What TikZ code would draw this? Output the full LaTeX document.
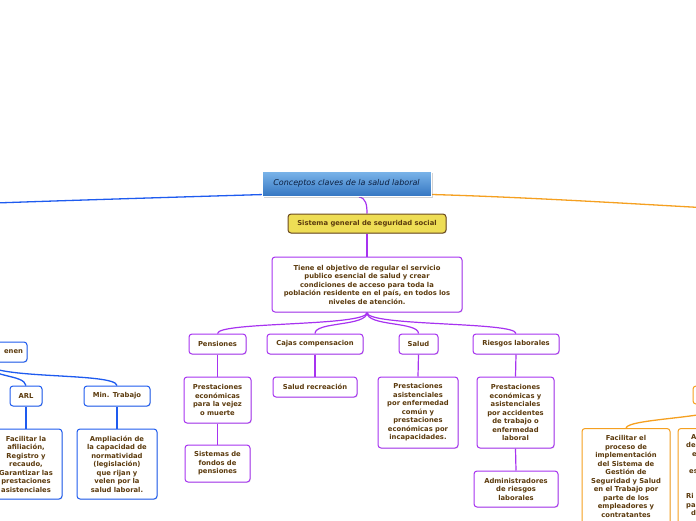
\documentclass[tikz,border=0pt]{standalone}
\usepackage{fontspec}
\setmainfont{DejaVu Sans}
\usetikzlibrary{shadows}
\pgfdeclarelayer{background}
\pgfsetlayers{background,main}
\definecolor{purp}{HTML}{A733F0}
\definecolor{txt}{HTML}{5C3B0E}
\definecolor{bluec}{HTML}{1E5BEF}
\definecolor{orng}{HTML}{F5A020}
\definecolor{yell}{HTML}{EEDD55}
\definecolor{yborder}{HTML}{6B4A1E}
\definecolor{navy}{HTML}{0B1E3F}
\definecolor{ttop}{HTML}{7CB5EA}
\definecolor{tbot}{HTML}{3577C2}
\begin{document}
\begin{tikzpicture}[x=1pt,y=-1pt,
  base/.style={line width=1pt, rounded corners=3pt, fill=white, align=center,
    inner xsep=2pt, inner ysep=1pt, text=txt,
    font=\fontsize{6.8}{8.5}\selectfont\bfseries,
    drop shadow={opacity=0.2, shadow xshift=0.8pt, shadow yshift=-0.8pt}},
  pbox/.style={base, draw=purp},
  bbox/.style={base, draw=bluec},
  obox/.style={base, draw=orng},
  pcon/.style={draw=purp, line width=1.2pt},
  bcon/.style={draw=bluec, line width=1.3pt},
  ocon/.style={draw=orng, line width=1.3pt}]
\useasboundingbox (0,0) rectangle (696,520);
\clip (0,0) rectangle (696,520);

% title
\node[draw=white, line width=1pt, top color=ttop, bottom color=tbot,
  minimum width=169pt, minimum height=25pt, inner sep=0pt, text=navy,
  font=\fontsize{8}{10}\selectfont\itshape,
  drop shadow={opacity=0.35, shadow xshift=1.5pt, shadow yshift=-1.5pt}]
  (title) at (346.5,183.5) {Conceptos claves de la salud laboral};

\node[draw=yborder, fill=yell, line width=1pt, rounded corners=3pt, text=txt,
  font=\fontsize{6.8}{8.5}\selectfont\bfseries, minimum width=158pt, minimum height=19pt, inner sep=0pt,
  drop shadow={opacity=0.25, shadow xshift=0.8pt, shadow yshift=-0.8pt}]
  (yellow) at (367,223.5) {Sistema general de seguridad social};

\node[pbox, minimum width=190pt, minimum height=55pt, text width=184pt] (desc) at (367,284.5)
  {Tiene el objetivo de regular el servicio\\publico esencial de salud y crear\\condiciones de acceso para toda la\\población residente en el país, en todos los\\niveles de atención.};

\node[pbox, minimum width=57pt, minimum height=20pt, text width=53pt] (pens) at (217.5,344) {Pensiones};
\node[pbox, minimum width=96pt, minimum height=20pt, text width=92pt] (cajas) at (315,344) {Cajas compensacion};
\node[pbox, minimum width=39pt, minimum height=20pt, text width=35pt] (salud) at (418.5,344) {Salud};
\node[pbox, minimum width=86pt, minimum height=20pt, text width=82pt] (riesgos) at (516,344) {Riesgos laborales};

\node[pbox, minimum width=67pt, minimum height=46pt, text width=63pt] (vejez) at (217.5,400)
  {Prestaciones\\económicas\\para la vejez\\o muerte};
\node[pbox, minimum width=65pt, minimum height=37pt, text width=61pt] (fondos) at (217.5,463.5)
  {Sistemas de\\fondos de\\pensiones};
\node[pbox, minimum width=84pt, minimum height=20pt, text width=80pt] (recre) at (315,387) {Salud recreación};
\node[pbox, minimum width=80pt, minimum height=71pt, text width=76pt] (asis) at (418,412.5)
  {Prestaciones\\asistenciales\\por enfermedad\\común y\\prestaciones\\económicas por\\incapacidades.};
\node[pbox, minimum width=77pt, minimum height=71pt, text width=73pt] (econ) at (515.5,412.5)
  {Prestaciones\\económicas y\\asistenciales\\por accidentes\\de trabajo o\\enfermedad\\laboral};
\node[pbox, minimum width=84pt, minimum height=36pt, text width=80pt] (admin) at (516,489)
  {Administradores\\de riesgos\\laborales};

% left (blue)
\node[bbox, minimum width=84pt, minimum height=20pt, text width=76pt, align=right] (enen) at (-15,352) {enen};
\node[bbox, minimum width=32pt, minimum height=20pt, text width=28pt] (arl) at (26,396) {ARL};
\node[bbox, minimum width=66pt, minimum height=20pt, text width=62pt] (mint) at (117,396) {Min. Trabajo};
\node[bbox, minimum width=72pt, minimum height=70pt, text width=68pt] (afil) at (26,464)
  {Facilitar la\\afiliación,\\Registro y\\recaudo,\\Garantizar las\\prestaciones\\asistenciales};
\node[bbox, minimum width=80pt, minimum height=70pt, text width=76pt] (ampl) at (117,464)
  {Ampliación de\\la capacidad de\\normatividad\\(legislación)\\que rijan y\\velen por la\\salud laboral.};

% right (orange)
\node[obox, minimum width=68pt, minimum height=18pt] (rpar) at (727,395) {};
\node[obox, minimum width=88pt, minimum height=96pt, text width=84pt, anchor=north] (facil) at (626,428)
  {Facilitar el\\proceso de\\implementación\\del Sistema de\\Gestión de\\Seguridad y Salud\\en el Trabajo por\\parte de los\\empleadores y\\contratantes};
\node[obox, minimum width=90pt, minimum height=96pt, anchor=north] (r2) at (723,428) {};
\node[anchor=north west, inner sep=0pt, align=left, text=txt,
  font=\fontsize{6.8}{8.5}\selectfont\bfseries] (r2t) at (685,434)
  {\hspace*{6pt}A\\\hspace*{1pt}de\\\hspace*{7pt}e\\\mbox{}\\\hspace*{4pt}es\\\mbox{}\\\mbox{}\\\hspace*{1pt}Ri\\\hspace*{1pt}pa\\\hspace*{6pt}d};

\coordinate (tb) at (359,197);
\coordinate (tl) at (264,194.5);
\coordinate (lend) at (-5,203);
\coordinate (tr) at (432,194.5);
\coordinate (rend) at (700,207.5);

\begin{pgfonlayer}{background}
\draw[pcon] (tb) .. controls (366,198) and (367,205) .. (yellow.north);
\draw[pcon] (yellow.south) -- (desc.north);
\foreach \c in {pens,cajas,salud,riesgos}{
  \draw[pcon] (desc.south) .. controls +(0,14) and +(0,-12) .. (\c.north);
}
\draw[pcon] (pens.south) -- (vejez.north);
\draw[pcon] (vejez.south) -- (fondos.north);
\draw[pcon] (cajas.south) -- (recre.north);
\draw[pcon] (salud.south) -- (asis.north);
\draw[pcon] (riesgos.south) -- (econ.north);
\draw[pcon] (econ.south) -- (admin.north);

\draw[bcon] (tl) .. controls (180,197) and (80,200) .. (lend);
\draw[bcon] (enen.south) .. controls (-12,378) and (24,374) .. (arl.north);
\draw[bcon] (enen.south) .. controls (-10,380) and (115,372) .. (mint.north);
\draw[bcon] (arl.south) -- (afil.north);
\draw[bcon] (mint.south) -- (ampl.north);

\draw[ocon] (tr) .. controls (520,197) and (620,203) .. (rend);
\draw[ocon] (rpar.south) .. controls (727,418) and (628,418) .. (facil.north);
\draw[ocon] (rpar.south) -- (r2.north);
\end{pgfonlayer}
\end{tikzpicture}
\end{document}
